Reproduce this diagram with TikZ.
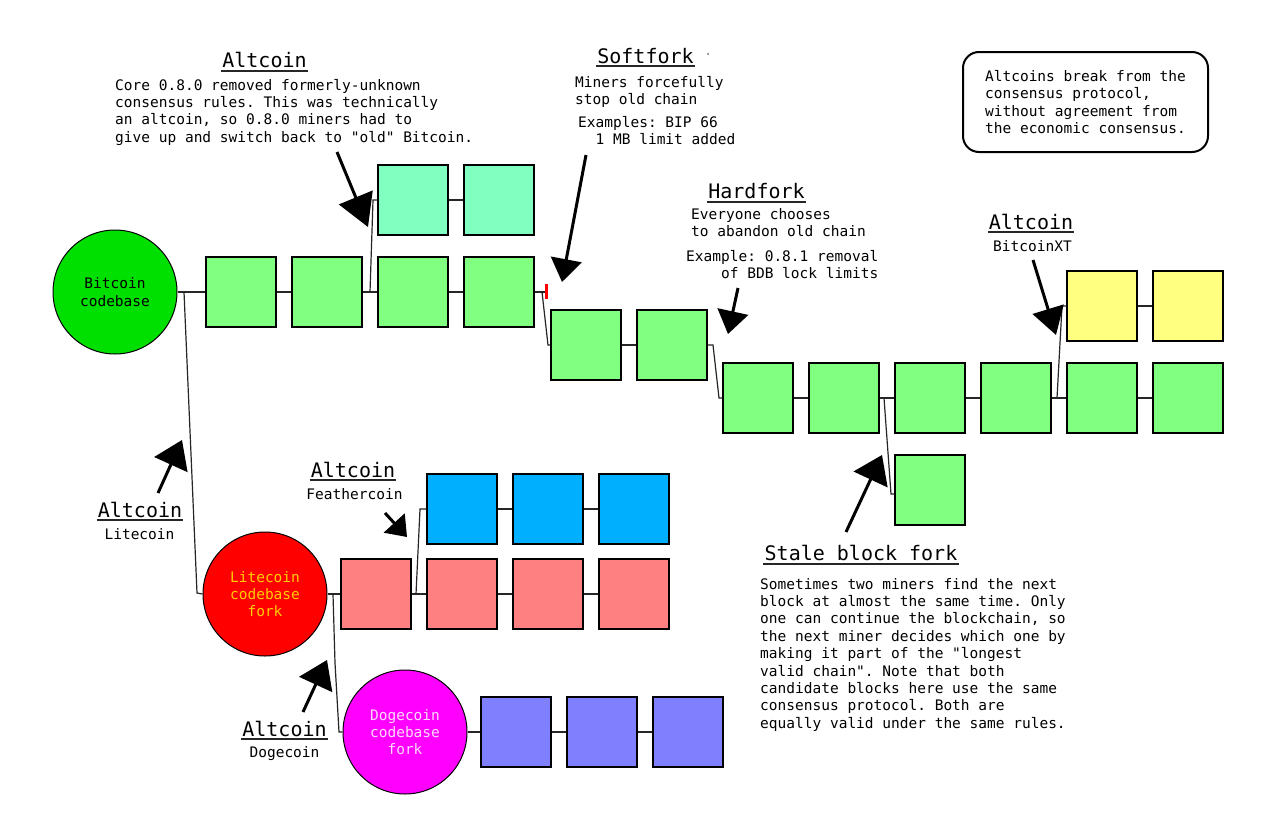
\documentclass[tikz,border=0pt]{standalone}
\usepackage{fontspec}
\setmonofont{DejaVu Sans Mono}
\renewcommand*\familydefault{\ttdefault}
\usetikzlibrary{arrows.meta}
\definecolor{btcgreen}{HTML}{00E000}
\definecolor{blkgreen}{HTML}{80FF80}
\definecolor{blkteal}{HTML}{80FFC0}
\definecolor{blkyellow}{HTML}{FFFF80}
\definecolor{blkred}{HTML}{FF8080}
\definecolor{blkblue}{HTML}{00B0FF}
\definecolor{blkpurple}{HTML}{8080FF}
\definecolor{ltcred}{HTML}{FF0000}
\definecolor{dogemag}{HTML}{FF00FF}
\definecolor{ltctext}{HTML}{FFCC00}
\definecolor{dogetext}{HTML}{FFD8FF}
\newcommand\bodyf{\ttfamily\fontsize{14.5}{17.4}\selectfont}
\newcommand\headf{\ttfamily\fontsize{20}{24}\selectfont}
\newcommand\qq{\symbol{34}}
\begin{document}
\begin{tikzpicture}[x=1pt,y=-1pt,
  blk/.style={draw=black, line width=1.3pt, minimum size=70pt, inner sep=0pt},
  coin/.style={circle, draw=black, line width=1pt, minimum size=124pt, inner sep=0pt, align=center, font=\bodyf},
  conn/.style={draw=black!85, line width=1.2pt},
  hd/.style={font=\headf, inner sep=0pt, anchor=base},
  txt/.style={font=\bodyf, inner sep=0pt, anchor=base west, align=left},
  lbl/.style={font=\bodyf, inner sep=0pt, anchor=base},
  uline/.style={draw=black!85, line width=1.5pt},
  ptr/.style={draw=black, line width=3pt},
  tick/.style={draw=ltcred, line width=3pt}]
\fill[white] (0,0) rectangle (1276,819);
\useasboundingbox (0,0) rectangle (1276,819);

% ---- coins
\node[coin, fill=btcgreen] (btc) at (115,292) {Bitcoin\\codebase};
\node[coin, fill=ltcred, text=ltctext] (ltc) at (265,594) {Litecoin\\codebase\\fork};
\node[coin, fill=dogemag, text=dogetext] (doge) at (405,732) {Dogecoin\\codebase\\fork};

% ---- blocks
\node[blk, fill=blkgreen] (b1) at (241,292) {};
\node[blk, fill=blkgreen] (b2) at (327,292) {};
\node[blk, fill=blkgreen] (b3) at (413,292) {};
\node[blk, fill=blkgreen] (b4) at (499,292) {};
\node[blk, fill=blkteal] (t1) at (413,200) {};
\node[blk, fill=blkteal] (t2) at (499,200) {};
\node[blk, fill=blkgreen] (s1) at (586,345) {};
\node[blk, fill=blkgreen] (s2) at (672,345) {};
\node[blk, fill=blkgreen] (h1) at (758,398) {};
\node[blk, fill=blkgreen] (h2) at (844,398) {};
\node[blk, fill=blkgreen] (h3) at (930,398) {};
\node[blk, fill=blkgreen] (h4) at (1016,398) {};
\node[blk, fill=blkgreen] (h5) at (1102,398) {};
\node[blk, fill=blkgreen] (h6) at (1188,398) {};
\node[blk, fill=blkyellow] (y1) at (1102,306) {};
\node[blk, fill=blkyellow] (y2) at (1188,306) {};
\node[blk, fill=blkgreen] (st) at (930,490) {};
\node[blk, fill=blkred] (r1) at (376,594) {};
\node[blk, fill=blkred] (r2) at (462,594) {};
\node[blk, fill=blkred] (r3) at (548,594) {};
\node[blk, fill=blkred] (r4) at (634,594) {};
\node[blk, fill=blkblue] (bl1) at (462,509) {};
\node[blk, fill=blkblue] (bl2) at (548,509) {};
\node[blk, fill=blkblue] (bl3) at (634,509) {};
\node[blk, fill=blkpurple] (p1) at (516,732) {};
\node[blk, fill=blkpurple] (p2) at (602,732) {};
\node[blk, fill=blkpurple] (p3) at (688,732) {};

% ---- junction coordinates
\coordinate (j1) at (370,292);  \coordinate (j1u) at (373,200);
\coordinate (sfk) at (545,292); \coordinate (sfa) at (542,292); \coordinate (sfb) at (548,345);
\coordinate (tka) at (546,284); \coordinate (tkb) at (546,299);
\coordinate (hfa) at (713,345); \coordinate (hfb) at (719,398);
\coordinate (sta) at (884,398); \coordinate (stb) at (891,494);
\coordinate (xta) at (1057,398); \coordinate (xtb) at (1062,306);
\coordinate (lta) at (184,292); \coordinate (ltb) at (197,593);
\coordinate (fta) at (416,594); \coordinate (ftb) at (420,509);
\coordinate (dga) at (333,594); \coordinate (dgb) at (335,663); \coordinate (dgc) at (339,732);

% ---- chain connectors
\draw[conn] (btc) -- (b1);
\draw[conn] (b1) -- (b2);
\draw[conn] (b2) -- (b3);
\draw[conn] (b3) -- (b4);
\draw[conn] (j1) -- (j1u) -- (t1.west);
\draw[conn] (t1) -- (t2);
\draw[conn] (b4.east) -- (sfk);
\draw[conn] (sfa) -- (sfb) -- (s1.west);
\draw[conn] (s1) -- (s2);
\draw[conn] (s2.east) -- (hfa) -- (hfb) -- (h1.west);
\draw[conn] (h1) -- (h2);
\draw[conn] (h2) -- (h3);
\draw[conn] (h3) -- (h4);
\draw[conn] (h4) -- (h5);
\draw[conn] (h5) -- (h6);
\draw[conn] (sta) -- (stb) -- (st.west |- stb);
\draw[conn] (xta) -- (xtb) -- (y1.west);
\draw[conn] (y1) -- (y2);
\draw[conn] (lta) -- (ltb) -- (ltc.west);
\draw[conn] (ltc) -- (r1);
\draw[conn] (r1) -- (r2);
\draw[conn] (r2) -- (r3);
\draw[conn] (r3) -- (r4);
\draw[conn] (fta) -- (ftb) -- (bl1.west);
\draw[conn] (bl1) -- (bl2);
\draw[conn] (bl2) -- (bl3);
\draw[conn] (dga) -- (dgb) -- (dgc) -- (doge.west);
\draw[conn] (doge) -- (p1);
\draw[conn] (p1) -- (p2);
\draw[conn] (p2) -- (p3);
\draw[tick] (tka) -- (tkb);

% ---- texts (multi-line nodes: base = last line's baseline)
\node[hd] (hA1) at (264.5,67) {Altcoin};
\draw[uline] ([xshift=-1pt,yshift=-4pt]hA1.base west) -- ([xshift=1pt,yshift=-4pt]hA1.base east);
\node[txt] (tA1) at (115,142.2) {Core 0.8.0 removed formerly-unknown\\consensus rules. This was technically\\an altcoin, so 0.8.0 miners had to\\give up and switch back to \qq old\qq{} Bitcoin.};

\node[hd] (hSF) at (645.5,63) {Softfork};
\draw[uline] ([xshift=-1pt,yshift=-3pt]hSF.base west) -- ([xshift=1pt,yshift=-3pt]hSF.base east);
\fill[black!60] (708,54) circle (1pt);
\node[txt] (tSF1) at (575,104.4) {Miners forcefully\\stop old chain};
\node[txt] (tSF2) at (578,144.4) {Examples: BIP 66\\\phantom{xx}1 MB limit added};

\node[hd] (hHF) at (756.5,198) {Hardfork};
\draw[uline] ([xshift=-1pt,yshift=-4pt]hHF.base west) -- ([xshift=1pt,yshift=-4pt]hHF.base east);
\node[txt] (tHF1) at (691,236.4) {Everyone chooses\\to abandon old chain};
\node[txt] (tHF2) at (686,278.4) {Example: 0.8.1 removal\\\phantom{xxxx}of BDB lock limits};

\node[draw=black, line width=2pt, rounded corners=16pt, minimum width=245pt, minimum height=100pt,
      font=\bodyf, align=left, inner sep=0pt] (note) at (1085.5,102)
  {Altcoins break from the\\consensus protocol,\\without agreement from\\the economic consensus.};

\node[hd] (hXT) at (1031,229) {Altcoin};
\draw[uline] ([xshift=-1pt,yshift=-3pt]hXT.base west) -- ([xshift=1pt,yshift=-3pt]hXT.base east);
\node[lbl] (tXT) at (1032.5,251) {BitcoinXT};

\node[hd] (hLT) at (140,517) {Altcoin};
\draw[uline] ([xshift=-1pt,yshift=-3pt]hLT.base west) -- ([xshift=1pt,yshift=-3pt]hLT.base east);
\node[lbl] (tLT) at (139.5,539) {Litecoin};

\node[hd] (hFT) at (353,477) {Altcoin};
\draw[uline] ([xshift=-1pt,yshift=-3pt]hFT.base west) -- ([xshift=1pt,yshift=-3pt]hFT.base east);
\node[lbl] (tFT) at (354.5,499) {Feathercoin};

\node[hd] (hDG) at (284.5,736) {Altcoin};
\draw[uline] ([xshift=-1pt,yshift=-3pt]hDG.base west) -- ([xshift=1pt,yshift=-3pt]hDG.base east);
\node[lbl] (tDG) at (284.5,757) {Dogecoin};

\node[hd] (hST) at (861,560) {Stale block fork};
\draw[uline] ([xshift=-1pt,yshift=-4pt]hST.base west) -- ([xshift=1pt,yshift=-4pt]hST.base east);
\node[txt] (tST) at (760,728.2) {Sometimes two miners find the next\\block at almost the same time. Only\\one can continue the blockchain, so\\the next miner decides which one by\\making it part of the \qq longest\\valid chain\qq. Note that both\\candidate blocks here use the same\\consensus protocol. Both are\\equally valid under the same rules.};

% ---- pointer arrows
\coordinate (a1s) at (337,152); \coordinate (a1t) at (368,227);
\coordinate (a2s) at (586,155); \coordinate (a2t) at (562,282);
\coordinate (a3s) at (738,288); \coordinate (a3t) at (728,334);
\coordinate (a4s) at (1033,260); \coordinate (a4t) at (1056,335);
\coordinate (a5s) at (158,493); \coordinate (a5t) at (182,440);
\coordinate (a6s) at (385,513); \coordinate (a6t) at (407,537);
\coordinate (a7s) at (303,712); \coordinate (a7t) at (327,660);
\coordinate (a8s) at (846,532); \coordinate (a8t) at (882,455);
\draw[ptr, -{Triangle[length=32pt,width=36pt]}] (a1s) -- (a1t);
\draw[ptr, -{Triangle[length=23pt,width=31pt]}] (a2s) -- (a2t);
\draw[ptr, -{Triangle[length=23pt,width=31pt]}] (a3s) -- (a3t);
\draw[ptr, -{Triangle[length=27pt,width=32pt]}] (a4s) -- (a4t);
\draw[ptr, -{Triangle[length=27pt,width=36pt]}] (a5s) -- (a5t);
\draw[ptr, -{Triangle[length=19pt,width=28pt]}] (a6s) -- (a6t);
\draw[ptr, -{Triangle[length=27pt,width=36pt]}] (a7s) -- (a7t);
\draw[ptr, -{Triangle[length=27pt,width=37pt]}] (a8s) -- (a8t);
\end{tikzpicture}
\end{document}
